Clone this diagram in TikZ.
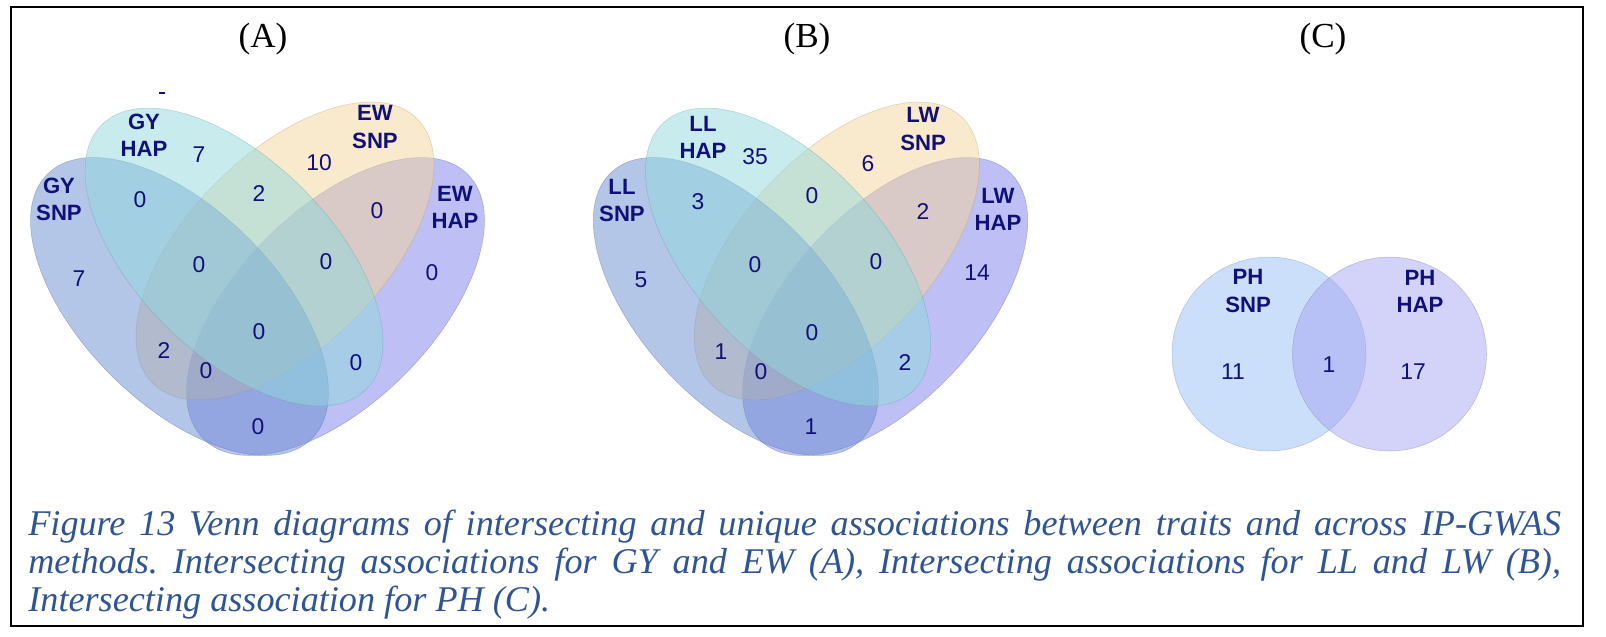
\documentclass[tikz,border=0pt]{standalone}
\usepackage{fontspec}
\setmainfont{Liberation Serif}
\setsansfont{Liberation Sans}
\usepackage{xcolor}
\usepackage{tikz}
\definecolor{snpleft}{RGB}{105,141,207}
\definecolor{hapleft}{RGB}{145,217,221}
\definecolor{snpright}{RGB}{245,213,155}
\definecolor{hapright}{RGB}{125,129,235}
\definecolor{phsnp}{RGB}{151,189,245}
\definecolor{phhap}{RGB}{167,165,241}
\definecolor{vennink}{RGB}{16,16,120}
\definecolor{capblue}{RGB}{47,84,150}

\begin{document}
\begin{tikzpicture}[
    x=0.02cm, y=-0.02cm,
    set/.style={fill opacity=0.5, draw opacity=0.4, line width=0.3pt},
    setname/.style={font=\sffamily\bfseries\fontsize{12.6}{15.4}\selectfont, text=vennink, align=center, inner sep=0pt},
    count/.style={font=\sffamily\fontsize{13}{15}\selectfont, text=vennink, inner sep=0pt},
    panel/.style={font=\fontsize{20}{24}\selectfont, anchor=base, inner sep=0pt},
    caption/.style={anchor=north west, inner sep=0pt, text width=30.66cm, align=justify, text=capblue, font=\itshape\fontsize{20.6}{21.6}\selectfont}
]
\useasboundingbox (0,0) rectangle (1606,636);

% Frame
\draw[line width=1.1pt] (11,7) rectangle (1583,626);

% Panel titles
\node[panel] (titlea) at (263,47) {(A)};
\node[panel] (titleb) at (807,47) {(B)};
\node[panel] (titlec) at (1323,47) {(C)};

% Venn (A): GY and EW
\begin{scope}[shift={(257.5,0)}]
\draw[set, fill=hapright, draw=hapright!70!black, rotate around={45:(78,306.5)}] (78,306.5) ellipse [x radius=187, y radius=97];
\draw[set, fill=snpright, draw=snpright!70!black, rotate around={45:(27.5,251)}] (27.5,251) ellipse [x radius=187, y radius=97];
\draw[set, fill=snpleft, draw=snpleft!70!black, rotate around={-45:(-78,306.5)}] (-78,306.5) ellipse [x radius=187, y radius=97];
\draw[set, fill=hapleft, draw=hapleft!70!black, rotate around={-45:(-23.5,257)}] (-23.5,257) ellipse [x radius=187, y radius=97];
\end{scope}
\draw[vennink, line width=0.8pt] (159,93) -- (165,93);

\node[setname] (gysnp) at (59,199) {GY\\SNP};
\node[setname] (gyhap) at (144,135.5) {GY\\HAP};
\node[setname] (ewsnp) at (375,127) {EW\\SNP};
\node[setname] (ewhap) at (455,207) {EW\\HAP};

\node[count] (a1) at (79,279) {7};
\node[count] (a2) at (199,155) {7};
\node[count] (a3) at (319,163) {10};
\node[count] (a4) at (432,273) {0};
\node[count] (a12) at (140,200) {0};
\node[count] (a23) at (259,194) {2};
\node[count] (a34) at (377,211) {0};
\node[count] (a123) at (199,265) {0};
\node[count] (a234) at (326,262) {0};
\node[count] (a1234) at (259,332) {0};
\node[count] (a13) at (164,351) {2};
\node[count] (a134) at (206,371) {0};
\node[count] (a24) at (356,363) {0};
\node[count] (a14) at (258,427) {0};

% Venn (B): LL and LW
\begin{scope}[shift={(810.5,0)}, xscale=0.957]
\draw[set, fill=hapright, draw=hapright!70!black, rotate around={45:(78,306.5)}] (78,306.5) ellipse [x radius=187, y radius=97];
\draw[set, fill=snpright, draw=snpright!70!black, rotate around={45:(27.5,251)}] (27.5,251) ellipse [x radius=187, y radius=97];
\draw[set, fill=snpleft, draw=snpleft!70!black, rotate around={-45:(-78,306.5)}] (-78,306.5) ellipse [x radius=187, y radius=97];
\draw[set, fill=hapleft, draw=hapleft!70!black, rotate around={-45:(-23.5,257)}] (-23.5,257) ellipse [x radius=187, y radius=97];
\end{scope}

\node[setname] (llsnp) at (622,200.5) {LL\\SNP};
\node[setname] (llhap) at (703,137) {LL\\HAP};
\node[setname] (lwsnp) at (923,129) {LW\\SNP};
\node[setname] (lwhap) at (998,209) {LW\\HAP};

\node[count] (b1) at (641,280) {5};
\node[count] (b2) at (755,157) {35};
\node[count] (b3) at (868,164) {6};
\node[count] (b4) at (977,273) {14};
\node[count] (b12) at (698,202) {3};
\node[count] (b23) at (812,196) {0};
\node[count] (b34) at (923,212) {2};
\node[count] (b123) at (755,265) {0};
\node[count] (b234) at (876,262) {0};
\node[count] (b1234) at (812,333) {0};
\node[count] (b13) at (721,352) {1};
\node[count] (b134) at (761,372) {0};
\node[count] (b24) at (905,363) {2};
\node[count] (b14) at (811,427) {1};

% Venn (C): PH
\draw[set, fill=phsnp, draw=phsnp!70!black] (1269,354) circle [radius=97];
\draw[set, fill=phhap, draw=phhap!70!black] (1389.5,354) circle [radius=97];

\node[setname] (phsnplab) at (1248,291) {PH\\SNP};
\node[setname] (phhaplab) at (1420,291) {PH\\HAP};
\node[count] (c1) at (1233,372) {11};
\node[count] (c12) at (1329,365) {1};
\node[count] (c2) at (1413,372) {17};

% Caption
\node[caption] (cap) at (28,510) {\frenchspacing\tolerance=9999\hyphenpenalty=10000
Figure 13 Venn diagrams of intersecting and unique associations between traits and across IP-GWAS\linebreak
methods. Intersecting associations for GY and EW (A), Intersecting associations for LL and LW (B),\linebreak
Intersecting association for PH (C).};

\end{tikzpicture}
\end{document}
